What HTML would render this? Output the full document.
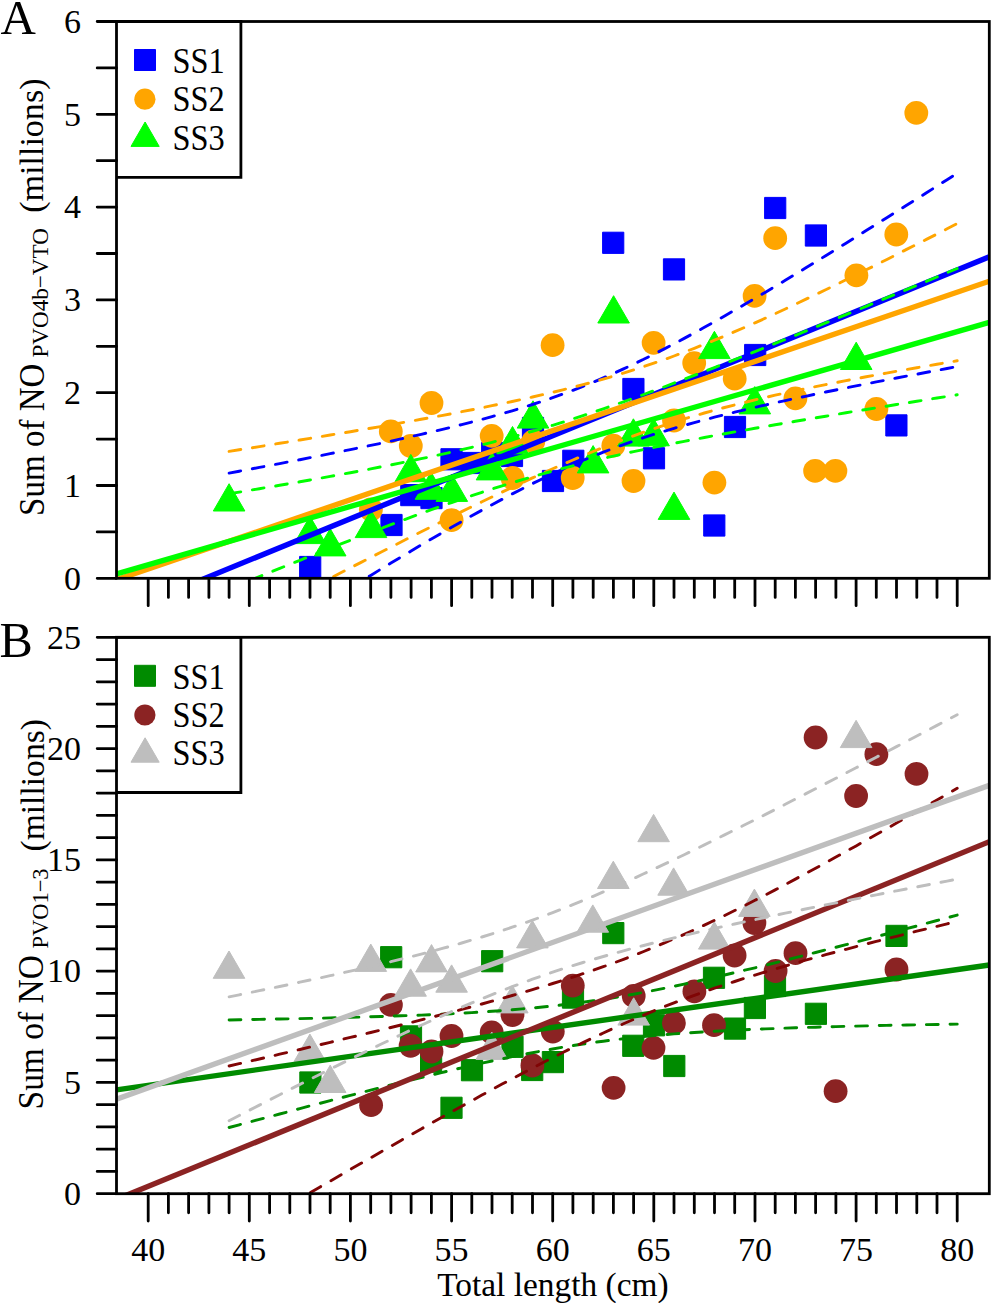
<!DOCTYPE html><html><head><meta charset="utf-8"><style>html,body{margin:0;padding:0;background:#fff;overflow:hidden}svg{display:block}</style></head><body><svg width="991" height="1303" viewBox="0 0 991 1303"><rect width="991" height="1303" fill="#fff"/><defs><clipPath id="ca"><rect x="116.5" y="21.5" width="872.8" height="556.8"/></clipPath><clipPath id="cb"><rect x="116.5" y="637.3" width="872.8" height="556.4"/></clipPath></defs><g clip-path="url(#ca)"><rect x="299.6" y="556.4" width="21.2" height="21.2" fill="#0000FF" stroke="#0000FF" stroke-width="1" stroke-linejoin="round"/><rect x="380.9" y="514.4" width="21.2" height="21.2" fill="#0000FF" stroke="#0000FF" stroke-width="1" stroke-linejoin="round"/><rect x="400.7" y="484.5" width="21.2" height="21.2" fill="#0000FF" stroke="#0000FF" stroke-width="1" stroke-linejoin="round"/><rect x="420.9" y="487.5" width="21.2" height="21.2" fill="#0000FF" stroke="#0000FF" stroke-width="1" stroke-linejoin="round"/><rect x="440.9" y="448.7" width="21.2" height="21.2" fill="#0000FF" stroke="#0000FF" stroke-width="1" stroke-linejoin="round"/><rect x="461.2" y="452.4" width="21.2" height="21.2" fill="#0000FF" stroke="#0000FF" stroke-width="1" stroke-linejoin="round"/><rect x="481.6" y="442.4" width="21.2" height="21.2" fill="#0000FF" stroke="#0000FF" stroke-width="1" stroke-linejoin="round"/><rect x="501.4" y="445.4" width="21.2" height="21.2" fill="#0000FF" stroke="#0000FF" stroke-width="1" stroke-linejoin="round"/><rect x="522.4" y="417.4" width="21.2" height="21.2" fill="#0000FF" stroke="#0000FF" stroke-width="1" stroke-linejoin="round"/><rect x="542.4" y="470.4" width="21.2" height="21.2" fill="#0000FF" stroke="#0000FF" stroke-width="1" stroke-linejoin="round"/><rect x="562.7" y="450.2" width="21.2" height="21.2" fill="#0000FF" stroke="#0000FF" stroke-width="1" stroke-linejoin="round"/><rect x="602.6" y="232.2" width="21.2" height="21.2" fill="#0000FF" stroke="#0000FF" stroke-width="1" stroke-linejoin="round"/><rect x="622.8" y="378.4" width="21.2" height="21.2" fill="#0000FF" stroke="#0000FF" stroke-width="1" stroke-linejoin="round"/><rect x="643.4" y="447.7" width="21.2" height="21.2" fill="#0000FF" stroke="#0000FF" stroke-width="1" stroke-linejoin="round"/><rect x="663.4" y="258.8" width="21.2" height="21.2" fill="#0000FF" stroke="#0000FF" stroke-width="1" stroke-linejoin="round"/><rect x="703.7" y="514.9" width="21.2" height="21.2" fill="#0000FF" stroke="#0000FF" stroke-width="1" stroke-linejoin="round"/><rect x="724.4" y="416.4" width="21.2" height="21.2" fill="#0000FF" stroke="#0000FF" stroke-width="1" stroke-linejoin="round"/><rect x="744.6" y="344.4" width="21.2" height="21.2" fill="#0000FF" stroke="#0000FF" stroke-width="1" stroke-linejoin="round"/><rect x="764.6" y="197.4" width="21.2" height="21.2" fill="#0000FF" stroke="#0000FF" stroke-width="1" stroke-linejoin="round"/><rect x="805.3" y="224.9" width="21.2" height="21.2" fill="#0000FF" stroke="#0000FF" stroke-width="1" stroke-linejoin="round"/><rect x="885.8" y="414.8" width="21.2" height="21.2" fill="#0000FF" stroke="#0000FF" stroke-width="1" stroke-linejoin="round"/><circle cx="370.9" cy="509.5" r="11.9" fill="#FFA500"/><circle cx="390.8" cy="431.4" r="11.9" fill="#FFA500"/><circle cx="410.8" cy="446" r="11.9" fill="#FFA500"/><circle cx="431.5" cy="403" r="11.9" fill="#FFA500"/><circle cx="451.6" cy="520.2" r="11.9" fill="#FFA500"/><circle cx="491.7" cy="435.8" r="11.9" fill="#FFA500"/><circle cx="512.5" cy="478" r="11.9" fill="#FFA500"/><circle cx="533.3" cy="441.5" r="11.9" fill="#FFA500"/><circle cx="552.6" cy="345.2" r="11.9" fill="#FFA500"/><circle cx="572.7" cy="478" r="11.9" fill="#FFA500"/><circle cx="613.3" cy="445.7" r="11.9" fill="#FFA500"/><circle cx="633.5" cy="481" r="11.9" fill="#FFA500"/><circle cx="653.6" cy="342.8" r="11.9" fill="#FFA500"/><circle cx="674" cy="420.5" r="11.9" fill="#FFA500"/><circle cx="694.2" cy="363.1" r="11.9" fill="#FFA500"/><circle cx="714.4" cy="482.6" r="11.9" fill="#FFA500"/><circle cx="734.7" cy="378.7" r="11.9" fill="#FFA500"/><circle cx="754.6" cy="295.9" r="11.9" fill="#FFA500"/><circle cx="775.2" cy="238.2" r="11.9" fill="#FFA500"/><circle cx="795.4" cy="398.3" r="11.9" fill="#FFA500"/><circle cx="815.1" cy="470.9" r="11.9" fill="#FFA500"/><circle cx="835.4" cy="470.9" r="11.9" fill="#FFA500"/><circle cx="856.4" cy="275.3" r="11.9" fill="#FFA500"/><circle cx="876.4" cy="409" r="11.9" fill="#FFA500"/><circle cx="896.3" cy="234.5" r="11.9" fill="#FFA500"/><circle cx="916.3" cy="112.9" r="11.9" fill="#FFA500"/><polygon points="229.1,483.7 244.9,511 213.3,511" fill="#00FF00" stroke="#00FF00" stroke-width="1" stroke-linejoin="round"/><polygon points="310,516.3 325.8,543.6 294.2,543.6" fill="#00FF00" stroke="#00FF00" stroke-width="1" stroke-linejoin="round"/><polygon points="330.2,528.6 346,555.9 314.4,555.9" fill="#00FF00" stroke="#00FF00" stroke-width="1" stroke-linejoin="round"/><polygon points="371,510.3 386.8,537.6 355.2,537.6" fill="#00FF00" stroke="#00FF00" stroke-width="1" stroke-linejoin="round"/><polygon points="410.8,454.4 426.6,481.7 395,481.7" fill="#00FF00" stroke="#00FF00" stroke-width="1" stroke-linejoin="round"/><polygon points="431,472 446.8,499.3 415.2,499.3" fill="#00FF00" stroke="#00FF00" stroke-width="1" stroke-linejoin="round"/><polygon points="451.8,474.1 467.6,501.4 436,501.4" fill="#00FF00" stroke="#00FF00" stroke-width="1" stroke-linejoin="round"/><polygon points="492,452.6 507.8,479.9 476.2,479.9" fill="#00FF00" stroke="#00FF00" stroke-width="1" stroke-linejoin="round"/><polygon points="512.5,426.5 528.3,453.8 496.7,453.8" fill="#00FF00" stroke="#00FF00" stroke-width="1" stroke-linejoin="round"/><polygon points="533,400.8 548.8,428.1 517.2,428.1" fill="#00FF00" stroke="#00FF00" stroke-width="1" stroke-linejoin="round"/><polygon points="593.1,445.6 608.9,472.9 577.3,472.9" fill="#00FF00" stroke="#00FF00" stroke-width="1" stroke-linejoin="round"/><polygon points="613.6,295.7 629.4,323 597.8,323" fill="#00FF00" stroke="#00FF00" stroke-width="1" stroke-linejoin="round"/><polygon points="633.4,418.8 649.2,446.1 617.6,446.1" fill="#00FF00" stroke="#00FF00" stroke-width="1" stroke-linejoin="round"/><polygon points="653.6,418.5 669.4,445.8 637.8,445.8" fill="#00FF00" stroke="#00FF00" stroke-width="1" stroke-linejoin="round"/><polygon points="674,492.1 689.8,519.4 658.2,519.4" fill="#00FF00" stroke="#00FF00" stroke-width="1" stroke-linejoin="round"/><polygon points="714.4,331.3 730.2,358.6 698.6,358.6" fill="#00FF00" stroke="#00FF00" stroke-width="1" stroke-linejoin="round"/><polygon points="754.8,386.6 770.6,413.9 739,413.9" fill="#00FF00" stroke="#00FF00" stroke-width="1" stroke-linejoin="round"/><polygon points="856.2,342.2 872,369.5 840.4,369.5" fill="#00FF00" stroke="#00FF00" stroke-width="1" stroke-linejoin="round"/><line x1="116.5" y1="614.6" x2="989.3" y2="256.8" stroke="#0000FF" stroke-width="5.4"/><polyline points="229.1,473.1 239.2,471.2 249.3,469.3 259.4,467.4 269.6,465.5 279.7,463.6 289.8,461.6 299.9,459.7 310,457.7 320.1,455.7 330.2,453.7 340.3,451.6 350.4,449.6 360.6,447.5 370.7,445.4 380.8,443.3 390.9,441.1 401,438.9 411.1,436.6 421.2,434.3 431.4,432 441.5,429.6 451.6,427.2 461.7,424.6 471.8,422 481.9,419.4 492,416.6 502.1,413.7 512.2,410.8 522.4,407.7 532.5,404.5 542.6,401.2 552.7,397.7 562.8,394 572.9,390.3 583,386.3 593.2,382.2 603.3,377.9 613.4,373.5 623.5,368.9 633.6,364.1 643.7,359.3 653.8,354.2 663.9,349.1 674,343.8 684.2,338.4 694.3,332.9 704.4,327.3 714.5,321.7 724.6,315.9 734.7,310.1 744.8,304.3 755,298.3 765.1,292.4 775.2,286.3 785.3,280.3 795.4,274.2 805.5,268 815.6,261.9 825.7,255.7 835.9,249.4 846,243.2 856.1,236.9 866.2,230.6 876.3,224.3 886.4,218 896.5,211.6 906.6,205.3 916.8,198.9 926.9,192.5 937,186.1 947.1,179.7 957.2,173.3" fill="none" stroke="#0000FF" stroke-width="2.9" stroke-dasharray="11.8 11.8" stroke-linecap="round"/><polyline points="229.1,663.8 239.2,657.4 249.3,651 259.4,644.6 269.6,638.2 279.7,631.8 289.8,625.5 299.9,619.2 310,612.8 320.1,606.5 330.2,600.3 340.3,594 350.4,587.8 360.6,581.6 370.7,575.4 380.8,569.2 390.9,563.1 401,557 411.1,551 421.2,545 431.4,539 441.5,533.1 451.6,527.3 461.7,521.5 471.8,515.8 481.9,510.2 492,504.7 502.1,499.3 512.2,493.9 522.4,488.7 532.5,483.6 542.6,478.7 552.7,473.9 562.8,469.2 572.9,464.7 583,460.4 593.2,456.2 603.3,452.2 613.4,448.3 623.5,444.6 633.6,441.1 643.7,437.7 653.8,434.4 663.9,431.3 674,428.3 684.2,425.4 694.3,422.6 704.4,419.8 714.5,417.2 724.6,414.7 734.7,412.2 744.8,409.8 755,407.4 765.1,405.1 775.2,402.8 785.3,400.6 795.4,398.4 805.5,396.3 815.6,394.1 825.7,392 835.9,390 846,387.9 856.1,385.9 866.2,383.9 876.3,381.9 886.4,380 896.5,378 906.6,376.1 916.8,374.2 926.9,372.3 937,370.4 947.1,368.5 957.2,366.6" fill="none" stroke="#0000FF" stroke-width="2.9" stroke-dasharray="11.8 11.8" stroke-linecap="round"/><line x1="116.5" y1="579.8" x2="989.3" y2="281.2" stroke="#FFA500" stroke-width="5.4"/><polyline points="229.1,451.4 239.2,449.8 249.3,448.2 259.4,446.6 269.6,444.9 279.7,443.3 289.8,441.7 299.9,440 310,438.4 320.1,436.7 330.2,435 340.3,433.4 350.4,431.7 360.6,429.9 370.7,428.2 380.8,426.5 390.9,424.7 401,422.9 411.1,421.1 421.2,419.3 431.4,417.5 441.5,415.6 451.6,413.7 461.7,411.7 471.8,409.8 481.9,407.8 492,405.7 502.1,403.6 512.2,401.5 522.4,399.3 532.5,397 542.6,394.7 552.7,392.3 562.8,389.9 572.9,387.3 583,384.7 593.2,381.9 603.3,379.1 613.4,376.1 623.5,373.1 633.6,369.9 643.7,366.6 653.8,363.2 663.9,359.7 674,356 684.2,352.2 694.3,348.3 704.4,344.3 714.5,340.2 724.6,336 734.7,331.7 744.8,327.3 755,322.8 765.1,318.3 775.2,313.7 785.3,309 795.4,304.2 805.5,299.4 815.6,294.6 825.7,289.7 835.9,284.8 846,279.8 856.1,274.8 866.2,269.8 876.3,264.8 886.4,259.7 896.5,254.6 906.6,249.4 916.8,244.3 926.9,239.1 937,234 947.1,228.8 957.2,223.5" fill="none" stroke="#FFA500" stroke-width="2.9" stroke-dasharray="11.8 11.8" stroke-linecap="round"/><polyline points="229.1,631.1 239.2,625.8 249.3,620.5 259.4,615.2 269.6,609.9 279.7,604.6 289.8,599.3 299.9,594 310,588.8 320.1,583.5 330.2,578.3 340.3,573 350.4,567.8 360.6,562.6 370.7,557.4 380.8,552.3 390.9,547.1 401,542 411.1,536.8 421.2,531.7 431.4,526.7 441.5,521.6 451.6,516.6 461.7,511.6 471.8,506.7 481.9,501.8 492,496.9 502.1,492.1 512.2,487.3 522.4,482.6 532.5,477.9 542.6,473.3 552.7,468.8 562.8,464.3 572.9,460 583,455.7 593.2,451.5 603.3,447.4 613.4,443.4 623.5,439.6 633.6,435.8 643.7,432.2 653.8,428.7 663.9,425.3 674,422.1 684.2,418.9 694.3,415.9 704.4,413 714.5,410.2 724.6,407.5 734.7,404.9 744.8,402.4 755,399.9 765.1,397.5 775.2,395.2 785.3,393 795.4,390.8 805.5,388.7 815.6,386.6 825.7,384.6 835.9,382.6 846,380.6 856.1,378.7 866.2,376.8 876.3,375 886.4,373.1 896.5,371.3 906.6,369.5 916.8,367.7 926.9,366 937,364.2 947.1,362.5 957.2,360.8" fill="none" stroke="#FFA500" stroke-width="2.9" stroke-dasharray="11.8 11.8" stroke-linecap="round"/><line x1="116.5" y1="573.8" x2="989.3" y2="322.4" stroke="#00FF00" stroke-width="5.4"/><polyline points="229.1,493.8 239.2,492.1 249.3,490.4 259.4,488.7 269.6,487 279.7,485.3 289.8,483.5 299.9,481.8 310,480 320.1,478.2 330.2,476.4 340.3,474.5 350.4,472.7 360.6,470.8 370.7,468.9 380.8,466.9 390.9,464.9 401,462.9 411.1,460.8 421.2,458.7 431.4,456.6 441.5,454.3 451.6,452.1 461.7,449.7 471.8,447.3 481.9,444.9 492,442.3 502.1,439.7 512.2,437 522.4,434.2 532.5,431.3 542.6,428.3 552.7,425.3 562.8,422.2 572.9,418.9 583,415.6 593.2,412.3 603.3,408.8 613.4,405.3 623.5,401.8 633.6,398.1 643.7,394.5 653.8,390.7 663.9,387 674,383.1 684.2,379.3 694.3,375.4 704.4,371.5 714.5,367.6 724.6,363.6 734.7,359.6 744.8,355.6 755,351.6 765.1,347.5 775.2,343.4 785.3,339.4 795.4,335.3 805.5,331.2 815.6,327 825.7,322.9 835.9,318.8 846,314.6 856.1,310.5 866.2,306.3 876.3,302.1 886.4,297.9 896.5,293.8 906.6,289.6 916.8,285.4 926.9,281.2 937,277 947.1,272.7 957.2,268.5" fill="none" stroke="#00FF00" stroke-width="2.9" stroke-dasharray="11.8 11.8" stroke-linecap="round"/><polyline points="229.1,589 239.2,584.8 249.3,580.7 259.4,576.6 269.6,572.5 279.7,568.4 289.8,564.3 299.9,560.3 310,556.2 320.1,552.2 330.2,548.2 340.3,544.2 350.4,540.2 360.6,536.3 370.7,532.4 380.8,528.5 390.9,524.7 401,520.9 411.1,517.1 421.2,513.4 431.4,509.7 441.5,506.1 451.6,502.6 461.7,499.1 471.8,495.6 481.9,492.3 492,489 502.1,485.8 512.2,482.7 522.4,479.7 532.5,476.7 542.6,473.9 552.7,471.1 562.8,468.4 572.9,465.8 583,463.2 593.2,460.8 603.3,458.4 613.4,456.1 623.5,453.8 633.6,451.6 643.7,449.5 653.8,447.4 663.9,445.3 674,443.3 684.2,441.3 694.3,439.4 704.4,437.5 714.5,435.6 724.6,433.7 734.7,431.9 744.8,430.1 755,428.3 765.1,426.5 775.2,424.8 785.3,423 795.4,421.3 805.5,419.6 815.6,417.9 825.7,416.2 835.9,414.5 846,412.8 856.1,411.1 866.2,409.5 876.3,407.8 886.4,406.2 896.5,404.5 906.6,402.9 916.8,401.3 926.9,399.6 937,398 947.1,396.4 957.2,394.8" fill="none" stroke="#00FF00" stroke-width="2.9" stroke-dasharray="11.8 11.8" stroke-linecap="round"/></g><g clip-path="url(#cb)"><rect x="299.8" y="1071.9" width="21.2" height="21.2" fill="#008B00" stroke="#008B00" stroke-width="1" stroke-linejoin="round"/><rect x="380.6" y="946.6" width="21.2" height="21.2" fill="#008B00" stroke="#008B00" stroke-width="1" stroke-linejoin="round"/><rect x="400.4" y="1025.8" width="21.2" height="21.2" fill="#008B00" stroke="#008B00" stroke-width="1" stroke-linejoin="round"/><rect x="420.5" y="1051.1" width="21.2" height="21.2" fill="#008B00" stroke="#008B00" stroke-width="1" stroke-linejoin="round"/><rect x="440.9" y="1097.2" width="21.2" height="21.2" fill="#008B00" stroke="#008B00" stroke-width="1" stroke-linejoin="round"/><rect x="461.4" y="1059.6" width="21.2" height="21.2" fill="#008B00" stroke="#008B00" stroke-width="1" stroke-linejoin="round"/><rect x="481.6" y="950.6" width="21.2" height="21.2" fill="#008B00" stroke="#008B00" stroke-width="1" stroke-linejoin="round"/><rect x="501.9" y="1036.2" width="21.2" height="21.2" fill="#008B00" stroke="#008B00" stroke-width="1" stroke-linejoin="round"/><rect x="521.6" y="1059.4" width="21.2" height="21.2" fill="#008B00" stroke="#008B00" stroke-width="1" stroke-linejoin="round"/><rect x="542.3" y="1051.5" width="21.2" height="21.2" fill="#008B00" stroke="#008B00" stroke-width="1" stroke-linejoin="round"/><rect x="562.4" y="987" width="21.2" height="21.2" fill="#008B00" stroke="#008B00" stroke-width="1" stroke-linejoin="round"/><rect x="602.7" y="922.5" width="21.2" height="21.2" fill="#008B00" stroke="#008B00" stroke-width="1" stroke-linejoin="round"/><rect x="622.7" y="1035.2" width="21.2" height="21.2" fill="#008B00" stroke="#008B00" stroke-width="1" stroke-linejoin="round"/><rect x="643.4" y="1014.7" width="21.2" height="21.2" fill="#008B00" stroke="#008B00" stroke-width="1" stroke-linejoin="round"/><rect x="663.7" y="1055.4" width="21.2" height="21.2" fill="#008B00" stroke="#008B00" stroke-width="1" stroke-linejoin="round"/><rect x="703.4" y="967.2" width="21.2" height="21.2" fill="#008B00" stroke="#008B00" stroke-width="1" stroke-linejoin="round"/><rect x="724.4" y="1018" width="21.2" height="21.2" fill="#008B00" stroke="#008B00" stroke-width="1" stroke-linejoin="round"/><rect x="744.3" y="997.4" width="21.2" height="21.2" fill="#008B00" stroke="#008B00" stroke-width="1" stroke-linejoin="round"/><rect x="764.4" y="975.4" width="21.2" height="21.2" fill="#008B00" stroke="#008B00" stroke-width="1" stroke-linejoin="round"/><rect x="805.3" y="1003.2" width="21.2" height="21.2" fill="#008B00" stroke="#008B00" stroke-width="1" stroke-linejoin="round"/><rect x="885.9" y="925.3" width="21.2" height="21.2" fill="#008B00" stroke="#008B00" stroke-width="1" stroke-linejoin="round"/><circle cx="371.1" cy="1105.2" r="11.9" fill="#8B2323"/><circle cx="390.9" cy="1004.9" r="11.9" fill="#8B2323"/><circle cx="410.6" cy="1045.8" r="11.9" fill="#8B2323"/><circle cx="431.5" cy="1051.5" r="11.9" fill="#8B2323"/><circle cx="451.5" cy="1036" r="11.9" fill="#8B2323"/><circle cx="491.7" cy="1032.4" r="11.9" fill="#8B2323"/><circle cx="512.5" cy="1015" r="11.9" fill="#8B2323"/><circle cx="532.4" cy="1065.5" r="11.9" fill="#8B2323"/><circle cx="552.8" cy="1031.6" r="11.9" fill="#8B2323"/><circle cx="572.8" cy="985.6" r="11.9" fill="#8B2323"/><circle cx="613.6" cy="1087.8" r="11.9" fill="#8B2323"/><circle cx="633.7" cy="995.9" r="11.9" fill="#8B2323"/><circle cx="653.5" cy="1047.9" r="11.9" fill="#8B2323"/><circle cx="673.9" cy="1022.9" r="11.9" fill="#8B2323"/><circle cx="694.4" cy="991.4" r="11.9" fill="#8B2323"/><circle cx="714" cy="1025.2" r="11.9" fill="#8B2323"/><circle cx="734.6" cy="955.5" r="11.9" fill="#8B2323"/><circle cx="754.4" cy="923" r="11.9" fill="#8B2323"/><circle cx="775.6" cy="971" r="11.9" fill="#8B2323"/><circle cx="795.5" cy="953.2" r="11.9" fill="#8B2323"/><circle cx="815.6" cy="737.5" r="11.9" fill="#8B2323"/><circle cx="835.6" cy="1091.2" r="11.9" fill="#8B2323"/><circle cx="856.1" cy="796" r="11.9" fill="#8B2323"/><circle cx="876.4" cy="754.2" r="11.9" fill="#8B2323"/><circle cx="896.5" cy="969.5" r="11.9" fill="#8B2323"/><circle cx="916.5" cy="773.9" r="11.9" fill="#8B2323"/><polygon points="229,951 244.8,978.3 213.2,978.3" fill="#BEBEBE" stroke="#BEBEBE" stroke-width="1" stroke-linejoin="round"/><polygon points="309.9,1034.1 325.7,1061.4 294.1,1061.4" fill="#BEBEBE" stroke="#BEBEBE" stroke-width="1" stroke-linejoin="round"/><polygon points="330.2,1065.2 346,1092.5 314.4,1092.5" fill="#BEBEBE" stroke="#BEBEBE" stroke-width="1" stroke-linejoin="round"/><polygon points="370.8,944.1 386.6,971.4 355,971.4" fill="#BEBEBE" stroke="#BEBEBE" stroke-width="1" stroke-linejoin="round"/><polygon points="410.6,968.9 426.4,996.2 394.8,996.2" fill="#BEBEBE" stroke="#BEBEBE" stroke-width="1" stroke-linejoin="round"/><polygon points="431.5,944.6 447.3,971.9 415.7,971.9" fill="#BEBEBE" stroke="#BEBEBE" stroke-width="1" stroke-linejoin="round"/><polygon points="451.6,964.9 467.4,992.2 435.8,992.2" fill="#BEBEBE" stroke="#BEBEBE" stroke-width="1" stroke-linejoin="round"/><polygon points="491.8,1032.1 507.6,1059.4 476,1059.4" fill="#BEBEBE" stroke="#BEBEBE" stroke-width="1" stroke-linejoin="round"/><polygon points="512.3,985.6 528.1,1012.9 496.5,1012.9" fill="#BEBEBE" stroke="#BEBEBE" stroke-width="1" stroke-linejoin="round"/><polygon points="532.4,920.6 548.2,947.9 516.6,947.9" fill="#BEBEBE" stroke="#BEBEBE" stroke-width="1" stroke-linejoin="round"/><polygon points="592.8,904.9 608.6,932.2 577,932.2" fill="#BEBEBE" stroke="#BEBEBE" stroke-width="1" stroke-linejoin="round"/><polygon points="613.3,861.2 629.1,888.5 597.5,888.5" fill="#BEBEBE" stroke="#BEBEBE" stroke-width="1" stroke-linejoin="round"/><polygon points="633.7,997.8 649.5,1025.1 617.9,1025.1" fill="#BEBEBE" stroke="#BEBEBE" stroke-width="1" stroke-linejoin="round"/><polygon points="653.6,814.4 669.4,841.7 637.8,841.7" fill="#BEBEBE" stroke="#BEBEBE" stroke-width="1" stroke-linejoin="round"/><polygon points="673.6,867.9 689.4,895.2 657.8,895.2" fill="#BEBEBE" stroke="#BEBEBE" stroke-width="1" stroke-linejoin="round"/><polygon points="714.3,921.8 730.1,949.1 698.5,949.1" fill="#BEBEBE" stroke="#BEBEBE" stroke-width="1" stroke-linejoin="round"/><polygon points="754.4,889.1 770.2,916.4 738.6,916.4" fill="#BEBEBE" stroke="#BEBEBE" stroke-width="1" stroke-linejoin="round"/><polygon points="856.1,720.3 871.9,747.6 840.3,747.6" fill="#BEBEBE" stroke="#BEBEBE" stroke-width="1" stroke-linejoin="round"/><line x1="116.5" y1="1089.8" x2="989.3" y2="965" stroke="#008B00" stroke-width="5.4"/><polyline points="229.1,1020 239.2,1019.8 249.3,1019.6 259.4,1019.4 269.6,1019.2 279.7,1019 289.8,1018.8 299.9,1018.6 310,1018.4 320.1,1018.2 330.2,1017.9 340.3,1017.7 350.4,1017.4 360.6,1017.1 370.7,1016.8 380.8,1016.5 390.9,1016.2 401,1015.8 411.1,1015.5 421.2,1015.1 431.4,1014.6 441.5,1014.2 451.6,1013.7 461.7,1013.1 471.8,1012.6 481.9,1012 492,1011.3 502.1,1010.6 512.2,1009.8 522.4,1008.9 532.5,1008 542.6,1007 552.7,1006 562.8,1004.8 572.9,1003.6 583,1002.2 593.2,1000.8 603.3,999.3 613.4,997.7 623.5,996 633.6,994.2 643.7,992.3 653.8,990.4 663.9,988.4 674,986.3 684.2,984.1 694.3,981.9 704.4,979.7 714.5,977.4 724.6,975 734.7,972.6 744.8,970.2 755,967.8 765.1,965.3 775.2,962.8 785.3,960.3 795.4,957.7 805.5,955.1 815.6,952.5 825.7,949.9 835.9,947.3 846,944.7 856.1,942 866.2,939.4 876.3,936.7 886.4,934 896.5,931.4 906.6,928.7 916.8,926 926.9,923.2 937,920.5 947.1,917.8 957.2,915.1" fill="none" stroke="#008B00" stroke-width="2.9" stroke-dasharray="11.8 11.8" stroke-linecap="round"/><polyline points="229.1,1127.5 239.2,1124.8 249.3,1122.1 259.4,1119.4 269.6,1116.7 279.7,1114 289.8,1111.3 299.9,1108.6 310,1105.9 320.1,1103.3 330.2,1100.6 340.3,1098 350.4,1095.4 360.6,1092.7 370.7,1090.1 380.8,1087.6 390.9,1085 401,1082.5 411.1,1080 421.2,1077.5 431.4,1075 441.5,1072.6 451.6,1070.2 461.7,1067.8 471.8,1065.5 481.9,1063.2 492,1061 502.1,1058.8 512.2,1056.7 522.4,1054.6 532.5,1052.7 542.6,1050.8 552.7,1049 562.8,1047.2 572.9,1045.6 583,1044 593.2,1042.5 603.3,1041.2 613.4,1039.9 623.5,1038.7 633.6,1037.6 643.7,1036.6 653.8,1035.6 663.9,1034.7 674,1033.9 684.2,1033.2 694.3,1032.5 704.4,1031.9 714.5,1031.3 724.6,1030.7 734.7,1030.2 744.8,1029.7 755,1029.3 765.1,1028.9 775.2,1028.5 785.3,1028.1 795.4,1027.8 805.5,1027.5 815.6,1027.2 825.7,1026.9 835.9,1026.6 846,1026.3 856.1,1026.1 866.2,1025.9 876.3,1025.6 886.4,1025.4 896.5,1025.2 906.6,1025 916.8,1024.8 926.9,1024.6 937,1024.5 947.1,1024.3 957.2,1024.1" fill="none" stroke="#008B00" stroke-width="2.9" stroke-dasharray="11.8 11.8" stroke-linecap="round"/><line x1="116.5" y1="1199.3" x2="989.3" y2="841.7" stroke="#8B2323" stroke-width="5.4"/><polyline points="229.1,1066 239.2,1063.7 249.3,1061.3 259.4,1059 269.6,1056.6 279.7,1054.2 289.8,1051.9 299.9,1049.5 310,1047.1 320.1,1044.7 330.2,1042.3 340.3,1039.8 350.4,1037.4 360.6,1035 370.7,1032.5 380.8,1030 390.9,1027.5 401,1025 411.1,1022.5 421.2,1019.9 431.4,1017.3 441.5,1014.7 451.6,1012.1 461.7,1009.4 471.8,1006.7 481.9,1004 492,1001.2 502.1,998.4 512.2,995.5 522.4,992.6 532.5,989.6 542.6,986.6 552.7,983.5 562.8,980.3 572.9,977.1 583,973.7 593.2,970.3 603.3,966.7 613.4,963.1 623.5,959.3 633.6,955.5 643.7,951.5 653.8,947.4 663.9,943.1 674,938.8 684.2,934.4 694.3,929.8 704.4,925.1 714.5,920.3 724.6,915.5 734.7,910.5 744.8,905.5 755,900.3 765.1,895.1 775.2,889.9 785.3,884.5 795.4,879.1 805.5,873.7 815.6,868.2 825.7,862.7 835.9,857.1 846,851.5 856.1,845.9 866.2,840.2 876.3,834.6 886.4,828.8 896.5,823.1 906.6,817.3 916.8,811.6 926.9,805.8 937,800 947.1,794.1 957.2,788.3" fill="none" stroke="#800505" stroke-width="2.9" stroke-dasharray="11.8 11.8" stroke-linecap="round"/><polyline points="229.1,1240.3 239.2,1234.3 249.3,1228.4 259.4,1222.5 269.6,1216.5 279.7,1210.6 289.8,1204.7 299.9,1198.8 310,1192.9 320.1,1187 330.2,1181.2 340.3,1175.3 350.4,1169.4 360.6,1163.6 370.7,1157.8 380.8,1152 390.9,1146.2 401,1140.4 411.1,1134.7 421.2,1128.9 431.4,1123.2 441.5,1117.5 451.6,1111.9 461.7,1106.3 471.8,1100.7 481.9,1095.1 492,1089.6 502.1,1084.1 512.2,1078.7 522.4,1073.4 532.5,1068 542.6,1062.8 552.7,1057.6 562.8,1052.5 572.9,1047.5 583,1042.6 593.2,1037.7 603.3,1033 613.4,1028.3 623.5,1023.8 633.6,1019.4 643.7,1015.1 653.8,1010.9 663.9,1006.8 674,1002.9 684.2,999 694.3,995.3 704.4,991.7 714.5,988.2 724.6,984.8 734.7,981.5 744.8,978.2 755,975.1 765.1,972 775.2,969 785.3,966 795.4,963.1 805.5,960.2 815.6,957.4 825.7,954.7 835.9,952 846,949.3 856.1,946.6 866.2,944 876.3,941.4 886.4,938.8 896.5,936.3 906.6,933.8 916.8,931.2 926.9,928.8 937,926.3 947.1,923.8 957.2,921.4" fill="none" stroke="#800505" stroke-width="2.9" stroke-dasharray="11.8 11.8" stroke-linecap="round"/><line x1="116.5" y1="1099.3" x2="989.3" y2="785.4" stroke="#BEBEBE" stroke-width="5.4"/><polyline points="229.1,996.8 239.2,994.8 249.3,992.7 259.4,990.7 269.6,988.6 279.7,986.5 289.8,984.4 299.9,982.2 310,980 320.1,977.9 330.2,975.7 340.3,973.4 350.4,971.1 360.6,968.8 370.7,966.5 380.8,964.1 390.9,961.7 401,959.2 411.1,956.7 421.2,954.1 431.4,951.4 441.5,948.7 451.6,945.9 461.7,943 471.8,940 481.9,937 492,933.8 502.1,930.6 512.2,927.2 522.4,923.7 532.5,920.1 542.6,916.4 552.7,912.6 562.8,908.7 572.9,904.6 583,900.5 593.2,896.3 603.3,891.9 613.4,887.5 623.5,883 633.6,878.5 643.7,873.8 653.8,869.1 663.9,864.4 674,859.6 684.2,854.7 694.3,849.8 704.4,844.9 714.5,839.9 724.6,834.9 734.7,829.9 744.8,824.8 755,819.7 765.1,814.6 775.2,809.5 785.3,804.3 795.4,799.1 805.5,793.9 815.6,788.7 825.7,783.5 835.9,778.3 846,773 856.1,767.8 866.2,762.5 876.3,757.2 886.4,751.9 896.5,746.6 906.6,741.3 916.8,736 926.9,730.7 937,725.4 947.1,720.1 957.2,714.7" fill="none" stroke="#BEBEBE" stroke-width="2.9" stroke-dasharray="11.8 11.8" stroke-linecap="round"/><polyline points="229.1,1120.7 239.2,1115.5 249.3,1110.3 259.4,1105.1 269.6,1099.9 279.7,1094.7 289.8,1089.5 299.9,1084.4 310,1079.3 320.1,1074.2 330.2,1069.1 340.3,1064.1 350.4,1059.1 360.6,1054.1 370.7,1049.2 380.8,1044.3 390.9,1039.5 401,1034.7 411.1,1029.9 421.2,1025.3 431.4,1020.6 441.5,1016.1 451.6,1011.6 461.7,1007.2 471.8,1002.9 481.9,998.7 492,994.6 502.1,990.6 512.2,986.7 522.4,982.9 532.5,979.2 542.6,975.7 552.7,972.2 562.8,968.8 572.9,965.6 583,962.5 593.2,959.4 603.3,956.5 613.4,953.6 623.5,950.8 633.6,948.1 643.7,945.5 653.8,942.9 663.9,940.4 674,937.9 684.2,935.5 694.3,933.1 704.4,930.8 714.5,928.5 724.6,926.2 734.7,924 744.8,921.8 755,919.6 765.1,917.5 775.2,915.3 785.3,913.2 795.4,911.1 805.5,909 815.6,907 825.7,904.9 835.9,902.9 846,900.8 856.1,898.8 866.2,896.8 876.3,894.8 886.4,892.8 896.5,890.8 906.6,888.9 916.8,886.9 926.9,885 937,883 947.1,881.1 957.2,879.1" fill="none" stroke="#BEBEBE" stroke-width="2.9" stroke-dasharray="11.8 11.8" stroke-linecap="round"/></g><g stroke="#000" stroke-width="2.8" fill="none" stroke-linecap="round"><rect x="116.5" y="21.5" width="872.8" height="556.8" stroke-linecap="butt"/><rect x="116.5" y="637.3" width="872.8" height="556.4" stroke-linecap="butt"/><path d="M116.5 578.3H97.2M116.5 531.9H97.2M116.5 485.5H97.2M116.5 439.1H97.2M116.5 392.7H97.2M116.5 346.3H97.2M116.5 299.9H97.2M116.5 253.5H97.2M116.5 207.1H97.2M116.5 160.7H97.2M116.5 114.3H97.2M116.5 67.9H97.2M116.5 21.5H97.2M116.5 1193.7H97.2M116.5 1171.4H97.2M116.5 1149.2H97.2M116.5 1126.9H97.2M116.5 1104.7H97.2M116.5 1082.4H97.2M116.5 1060.2H97.2M116.5 1037.9H97.2M116.5 1015.7H97.2M116.5 993.4H97.2M116.5 971.1H97.2M116.5 948.9H97.2M116.5 926.6H97.2M116.5 904.4H97.2M116.5 882.1H97.2M116.5 859.9H97.2M116.5 837.6H97.2M116.5 815.3H97.2M116.5 793.1H97.2M116.5 770.8H97.2M116.5 748.6H97.2M116.5 726.3H97.2M116.5 704.1H97.2M116.5 681.8H97.2M116.5 659.6H97.2M116.5 637.3H97.2M148.2 578.3V605.7M148.2 1193.7V1221.1M168.4 578.3V597.4M168.4 1193.7V1212.8M188.6 578.3V597.4M188.6 1193.7V1212.8M208.9 578.3V597.4M208.9 1193.7V1212.8M229.1 578.3V597.4M229.1 1193.7V1212.8M249.3 578.3V605.7M249.3 1193.7V1221.1M269.6 578.3V597.4M269.6 1193.7V1212.8M289.8 578.3V597.4M289.8 1193.7V1212.8M310 578.3V597.4M310 1193.7V1212.8M330.2 578.3V597.4M330.2 1193.7V1212.8M350.4 578.3V605.7M350.4 1193.7V1221.1M370.7 578.3V597.4M370.7 1193.7V1212.8M390.9 578.3V597.4M390.9 1193.7V1212.8M411.1 578.3V597.4M411.1 1193.7V1212.8M431.4 578.3V597.4M431.4 1193.7V1212.8M451.6 578.3V605.7M451.6 1193.7V1221.1M471.8 578.3V597.4M471.8 1193.7V1212.8M492 578.3V597.4M492 1193.7V1212.8M512.2 578.3V597.4M512.2 1193.7V1212.8M532.5 578.3V597.4M532.5 1193.7V1212.8M552.7 578.3V605.7M552.7 1193.7V1221.1M572.9 578.3V597.4M572.9 1193.7V1212.8M593.2 578.3V597.4M593.2 1193.7V1212.8M613.4 578.3V597.4M613.4 1193.7V1212.8M633.6 578.3V597.4M633.6 1193.7V1212.8M653.8 578.3V605.7M653.8 1193.7V1221.1M674 578.3V597.4M674 1193.7V1212.8M694.3 578.3V597.4M694.3 1193.7V1212.8M714.5 578.3V597.4M714.5 1193.7V1212.8M734.7 578.3V597.4M734.7 1193.7V1212.8M755 578.3V605.7M755 1193.7V1221.1M775.2 578.3V597.4M775.2 1193.7V1212.8M795.4 578.3V597.4M795.4 1193.7V1212.8M815.6 578.3V597.4M815.6 1193.7V1212.8M835.9 578.3V597.4M835.9 1193.7V1212.8M856.1 578.3V605.7M856.1 1193.7V1221.1M876.3 578.3V597.4M876.3 1193.7V1212.8M896.5 578.3V597.4M896.5 1193.7V1212.8M916.8 578.3V597.4M916.8 1193.7V1212.8M937 578.3V597.4M937 1193.7V1212.8M957.2 578.3V605.7M957.2 1193.7V1221.1"/><path d="M116.5 21.5H240.9V177.4H116.5" stroke-linecap="butt" stroke-linejoin="miter"/><path d="M116.5 637.3H240.9V792.5H116.5" stroke-linecap="butt" stroke-linejoin="miter"/></g><rect x="134.5" y="49.5" width="21" height="21" fill="#0000FF" stroke="#0000FF" stroke-width="1" stroke-linejoin="round"/><circle cx="144.9" cy="99.2" r="10.6" fill="#FFA500"/><polygon points="145.1,122 159.2,146.4 131,146.4" fill="#00FF00" stroke="#00FF00" stroke-width="1" stroke-linejoin="round"/><rect x="134.5" y="665.3" width="21" height="21" fill="#008B00" stroke="#008B00" stroke-width="1" stroke-linejoin="round"/><circle cx="144.9" cy="715" r="10.6" fill="#8B2323"/><polygon points="145.1,737.8 159.2,762.2 131,762.2" fill="#BEBEBE" stroke="#BEBEBE" stroke-width="1" stroke-linejoin="round"/><g font-family='"Liberation Serif", serif' fill="#000"><text x="81" y="589.6" font-size="34" text-anchor="end">0</text><text x="81" y="496.8" font-size="34" text-anchor="end">1</text><text x="81" y="404" font-size="34" text-anchor="end">2</text><text x="81" y="311.2" font-size="34" text-anchor="end">3</text><text x="81" y="218.4" font-size="34" text-anchor="end">4</text><text x="81" y="125.6" font-size="34" text-anchor="end">5</text><text x="81" y="32.8" font-size="34" text-anchor="end">6</text><text x="81" y="1205" font-size="34" text-anchor="end">0</text><text x="81" y="1093.7" font-size="34" text-anchor="end">5</text><text x="81" y="982.4" font-size="34" text-anchor="end">10</text><text x="81" y="871.2" font-size="34" text-anchor="end">15</text><text x="81" y="759.9" font-size="34" text-anchor="end">20</text><text x="81" y="648.6" font-size="34" text-anchor="end">25</text><text x="148.2" y="1260.5" font-size="34" text-anchor="middle">40</text><text x="249.3" y="1260.5" font-size="34" text-anchor="middle">45</text><text x="350.4" y="1260.5" font-size="34" text-anchor="middle">50</text><text x="451.6" y="1260.5" font-size="34" text-anchor="middle">55</text><text x="552.7" y="1260.5" font-size="34" text-anchor="middle">60</text><text x="653.8" y="1260.5" font-size="34" text-anchor="middle">65</text><text x="755" y="1260.5" font-size="34" text-anchor="middle">70</text><text x="856.1" y="1260.5" font-size="34" text-anchor="middle">75</text><text x="957.2" y="1260.5" font-size="34" text-anchor="middle">80</text><text transform="translate(552.9 1296) scale(0.982 1)" font-size="34" text-anchor="middle">Total length (cm)</text><text x="0.4" y="33.6" font-size="49" text-anchor="start">A</text><text x="-0.6" y="656.8" font-size="50" text-anchor="start">B</text><text x="172.6" y="72.7" font-size="35" textLength="52.2" lengthAdjust="spacingAndGlyphs">SS1</text><text x="172.6" y="111.1" font-size="35" textLength="52.2" lengthAdjust="spacingAndGlyphs">SS2</text><text x="172.6" y="149.5" font-size="35" textLength="52.2" lengthAdjust="spacingAndGlyphs">SS3</text><text x="172.6" y="688.5" font-size="35" textLength="52.2" lengthAdjust="spacingAndGlyphs">SS1</text><text x="172.6" y="726.9" font-size="35" textLength="52.2" lengthAdjust="spacingAndGlyphs">SS2</text><text x="172.6" y="765.3" font-size="35" textLength="52.2" lengthAdjust="spacingAndGlyphs">SS3</text><text transform="translate(43.5 515.9) rotate(-90) scale(0.9437 1)" font-size="35">Sum of NO</text><text transform="translate(48.1 357.5) rotate(-90) scale(0.9834 1)" font-size="23.5">PVO4b−VTO</text><text transform="translate(43.3 212.8) rotate(-90) scale(0.9872 1)" font-size="34.5">(millions)</text><text transform="translate(43.4 1109.5) rotate(-90) scale(0.9570 1)" font-size="35">Sum of NO</text><text transform="translate(48.3 948.5) rotate(-90) scale(0.9694 1)" font-size="23.2">PVO1−3</text><text transform="translate(43.6 851.5) rotate(-90) scale(0.9737 1)" font-size="34.5">(millions)</text></g></svg></body></html>
